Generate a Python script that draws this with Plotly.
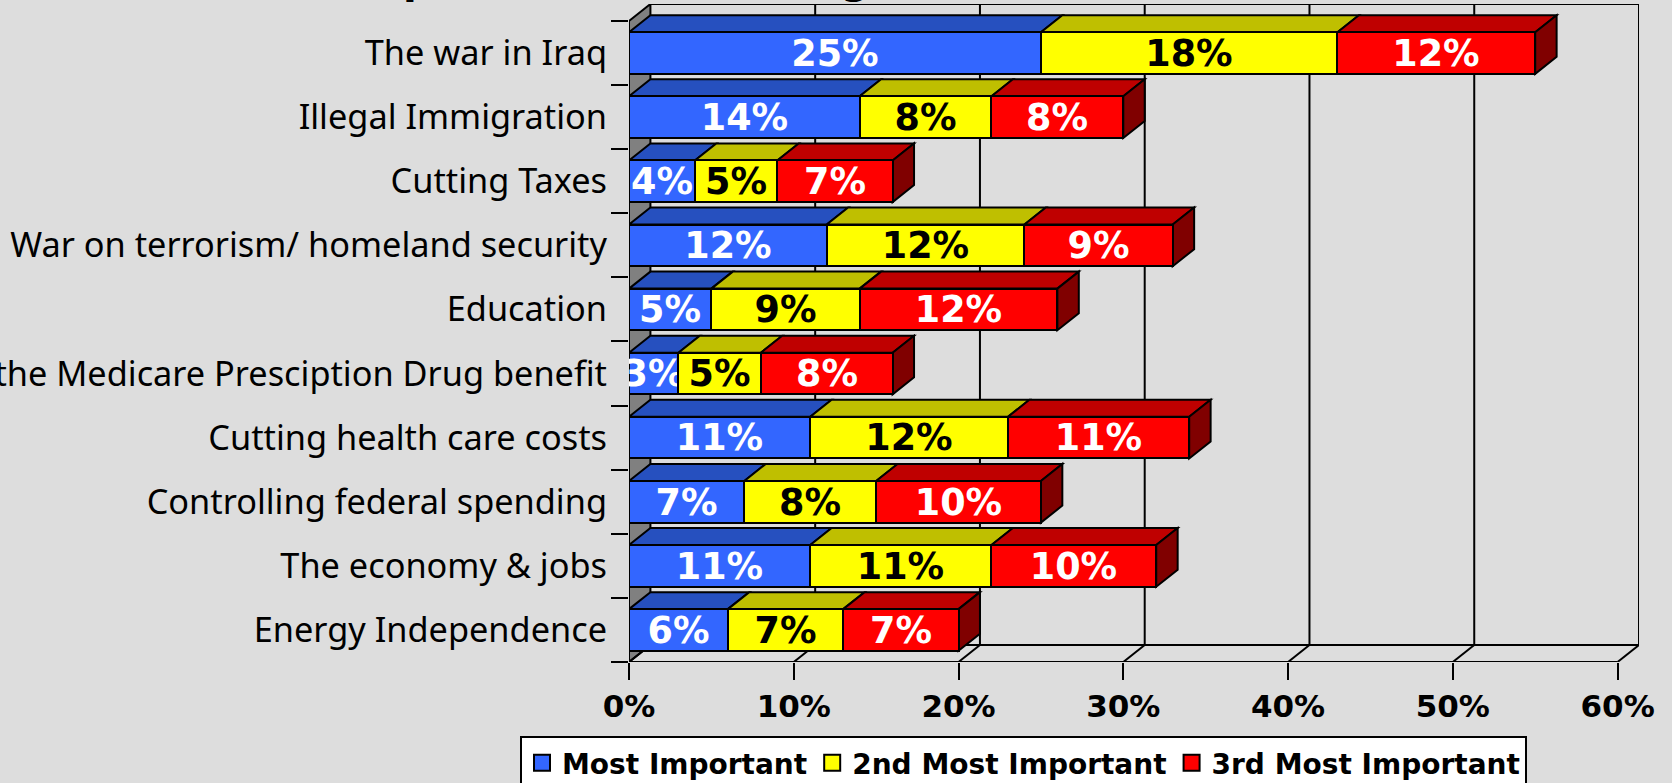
import plotly.graph_objects as go

categories = ["The war in Iraq", "Illegal Immigration", "Cutting Taxes",
              "War on terrorism/ homeland security", "Education",
              "the Medicare Presciption Drug benefit", "Cutting health care costs",
              "Controlling federal spending", "The economy & jobs", "Energy Independence"]
most_important = [25, 14, 4, 12, 5, 3, 11, 7, 11, 6]
second_most = [18, 8, 5, 12, 9, 5, 12, 8, 11, 7]
third_most = [12, 8, 7, 9, 12, 8, 11, 10, 10, 7]
series_names = ["Most Important", "2nd Most Important", "3rd Most Important"]
x_ticks = [0, 10, 20, 30, 40, 50, 60]

FONT = "DejaVu Sans"
LABEL_FONT = "Noto Sans"
BG = "#DDDDDD"
front = ["#3366FF", "#FFFF00", "#FF0000"]
top = ["#2650BF", "#BFBF00", "#BF0000"]
side = ["#1A3380", "#808000", "#800000"]
text_col = ["white", "black", "white"]

DX, DY = 1.3, 0.265
BAR_H = 0.65
n = len(categories)
rows = list(range(n))
XMAX = x_ticks[-1]
series = [most_important, second_most, third_most]

shapes = []
def poly(pts, fill=None, w=2, layer="below"):
    path = "M" + "L".join(f"{x},{y}" for x, y in pts) + ("Z" if fill else "")
    shapes.append(dict(type="path", path=path, xref="x", yref="y", layer=layer,
                       fillcolor=fill if fill else "rgba(0,0,0,0)",
                       line=dict(color="black", width=w)))

ybot, ytop = n - 0.5, -0.5
# left wall
poly([(0, ybot), (DX, ybot - DY), (DX, ytop - DY), (0, ytop)], "#808080")
# back wall frame and floor
poly([(DX, ybot - DY), (XMAX + DX, ybot - DY), (XMAX + DX, ytop - DY), (DX, ytop - DY)])
for t in x_ticks[1:-1]:
    poly([(t + DX, ybot - DY), (t + DX, ytop - DY)])
for t in x_ticks:
    poly([(t, ybot), (t + DX, ybot - DY)])
# front floor edge and left edge
poly([(0, ybot), (XMAX, ybot)])
poly([(0, ybot), (0, ytop)])

# bar tops and end faces
for r in rows:
    cum = 0
    y1 = r - BAR_H / 2
    y2 = r + BAR_H / 2
    for s in range(3):
        v = series[s][r]
        poly([(cum, y1), (cum + DX, y1 - DY), (cum + v + DX, y1 - DY), (cum + v, y1)], top[s])
        cum += v
    poly([(cum, y1), (cum + DX, y1 - DY), (cum + DX, y2 - DY), (cum, y2)], side[2])

fig = go.Figure()
for s in range(3):
    fig.add_trace(go.Bar(
        y=rows, x=series[s], orientation="h", width=BAR_H, name=series_names[s],
        marker=dict(color=front[s], line=dict(color="black", width=2)),
        text=[f"{v}%" for v in series[s]], textposition="inside", insidetextanchor="middle",
        textangle=0, constraintext="none", cliponaxis=True,
        textfont=dict(family=FONT, size=36.5, color=text_col[s], weight="bold"),
        showlegend=False, hoverinfo="skip"))
for s in range(3):
    fig.add_trace(go.Scatter(
        x=[None], y=[None], mode="markers", name=series_names[s],
        marker=dict(symbol="square", size=16, color=front[s], line=dict(color="black", width=2))))

# The reference's title is cropped by the page edge: only two descenders remain visible.
for letter, xp in [("p", 417), ("g", 855)]:
    fig.add_annotation(text=letter, xref="paper", yref="paper", x=(xp - 629) / 1010, y=1.0,
                       xanchor="center", yanchor="bottom", yshift=1, showarrow=False,
                       borderpad=0, font=dict(family=FONT, size=40, color="black", weight="bold"))

fig.update_layout(
    width=1672, height=783, barmode="stack", bargap=0,
    paper_bgcolor=BG, plot_bgcolor=BG,
    margin=dict(l=629, r=33, t=4, b=121, autoexpand=False),
    shapes=shapes, font=dict(family=FONT, color="black"),
    xaxis=dict(range=[0, XMAX + DX], tickmode="array", tickvals=x_ticks,
               ticktext=[f"{t}%" for t in x_ticks], ticks="outside", ticklen=17, tickwidth=2,
               tickcolor="black", showgrid=False, zeroline=False, showline=False,
               tickfont=dict(family=FONT, size=31, weight="bold", color="black")),
    yaxis=dict(range=[ybot, ytop - DY], tickmode="array", tickvals=rows, ticktext=categories,
               ticks="", ticklabelstandoff=21, showgrid=False, zeroline=False, showline=False,
               tickfont=dict(family=LABEL_FONT, size=34.3, color="black"),
               minor=dict(tickmode="array", tickvals=[r - 0.5 for r in rows] + [n - 0.5],
                          ticks="outside", ticklen=17, tickwidth=2, tickcolor="black", showgrid=False)),
    legend=dict(orientation="h", x=520 / 1672, y=0.06, xanchor="left", yanchor="top",
                yref="container", xref="container", bgcolor="white", bordercolor="black", borderwidth=2,
                itemsizing="trace", tracegroupgap=0, traceorder="normal",
                font=dict(family=FONT, size=28, weight="bold", color="black")),
)
fig.write_html("out.html", config={"displayModeBar": False},
               post_script="document.body.style.margin='0';document.body.style.background='#DDDDDD';")
